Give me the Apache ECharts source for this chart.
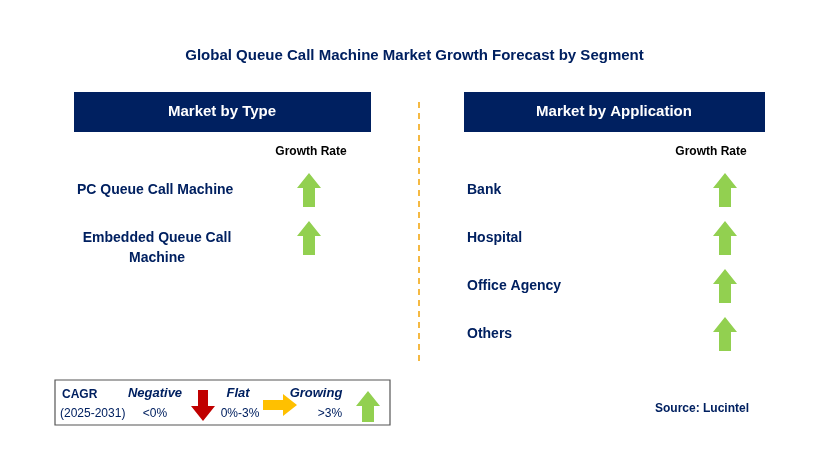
<!DOCTYPE html><html><head><meta charset="utf-8"><script src="https://cdn.jsdelivr.net/npm/echarts@6/dist/echarts.min.js"></script>
<style>html,body{margin:0;padding:0;background:#fff}#c{width:829px;height:453px}</style></head><body><div id="c"></div><script>
const title = 'Global Queue Call Machine Market Growth Forecast by Segment';
const typeCategories = ['PC Queue Call Machine', 'Embedded Queue Call\nMachine'];
const typeGrowth = ['up', 'up'];
const appCategories = ['Bank', 'Hospital', 'Office Agency', 'Others'];
const appGrowth = ['up', 'up', 'up', 'up'];
const source = 'Source: Lucintel';
const NAVY = '#002060', GREEN = '#92d050';
function upArrow(cx, top, color, h) {
  h = h || 34; const hw = 12, sw = 6, hh = 15;
  return {type:'polygon', shape:{points:[[cx,top],[cx+hw,top+hh],[cx+sw,top+hh],[cx+sw,top+h],[cx-sw,top+h],[cx-sw,top+hh],[cx-hw,top+hh]]}, style:{fill:color}};
}
const g = [];
g.push({type:'text', left:'center', top:48, style:{text:title, font:'bold 15px Arial', fill:NAVY}});
g.push({type:'rect', shape:{x:74,y:92,width:297,height:40}, style:{fill:NAVY}});
g.push({type:'text', x:222, y:112, style:{text:'Market by Type', font:'bold 15px Arial', fill:'#fff', align:'center', verticalAlign:'middle'}});
g.push({type:'rect', shape:{x:464,y:92,width:301,height:40}, style:{fill:NAVY}});
g.push({type:'text', x:614, y:112, style:{text:'Market by Application', font:'bold 15px Arial', fill:'#fff', align:'center', verticalAlign:'middle'}});
g.push({type:'line', shape:{x1:419,y1:102,x2:419,y2:366}, style:{stroke:'#f5b942', lineWidth:2, lineDash:[6,5]}});
g.push({type:'text', x:311, y:152, style:{text:'Growth Rate', font:'bold 12px Arial', fill:'#000', align:'center', verticalAlign:'middle'}});
g.push({type:'text', x:711, y:152, style:{text:'Growth Rate', font:'bold 12px Arial', fill:'#000', align:'center', verticalAlign:'middle'}});
typeCategories.forEach((c,i)=>{
  const y = 190 + i*48;
  g.push({type:'text', x:i===1?157:77, y: i===1?248:y, style:{text:c, font:'bold 14px Arial', fill:NAVY, align:i===1?'center':'left', verticalAlign:'middle', lineHeight:20}});
  if (typeGrowth[i]==='up') g.push(upArrow(309, y-17, GREEN));
});
appCategories.forEach((c,i)=>{
  const y = 190 + i*48;
  g.push({type:'text', x:467, y:y, style:{text:c, font:'bold 14px Arial', fill:NAVY, verticalAlign:'middle'}});
  if (appGrowth[i]==='up') g.push(upArrow(725, y-17, GREEN));
});
// legend
g.push({type:'rect', shape:{x:55,y:380,width:335,height:45}, style:{fill:'#fff', stroke:'#555', lineWidth:1.2}});
g.push({type:'text', x:62, y:395, style:{text:'CAGR', font:'bold 12px Arial', fill:NAVY, verticalAlign:'middle'}});
g.push({type:'text', x:60, y:414, style:{text:'(2025-2031)', font:'12px Arial', fill:NAVY, verticalAlign:'middle'}});
g.push({type:'text', x:155, y:393, style:{text:'Negative', font:'italic bold 13px Arial', fill:NAVY, align:'center', verticalAlign:'middle'}});
g.push({type:'text', x:155, y:414, style:{text:'<0%', font:'12px Arial', fill:NAVY, align:'center', verticalAlign:'middle'}});
g.push({type:'polygon', shape:{points:[[198,390],[208,390],[208,406],[215,406],[203,421],[191,406],[198,406]]}, style:{fill:'#c00000'}});
g.push({type:'text', x:238, y:393, style:{text:'Flat', font:'italic bold 13px Arial', fill:NAVY, align:'center', verticalAlign:'middle'}});
g.push({type:'text', x:240, y:414, style:{text:'0%-3%', font:'12px Arial', fill:NAVY, align:'center', verticalAlign:'middle'}});
g.push({type:'polygon', shape:{points:[[263,400],[283,400],[283,394],[297,405],[283,416],[283,410],[263,410]]}, style:{fill:'#ffc000'}});
g.push({type:'text', x:316, y:393, style:{text:'Growing', font:'italic bold 13px Arial', fill:NAVY, align:'center', verticalAlign:'middle'}});
g.push({type:'text', x:330, y:414, style:{text:'>3%', font:'12px Arial', fill:NAVY, align:'center', verticalAlign:'middle'}});
g.push(upArrow(368, 391, GREEN, 31));
g.push({type:'text', x:749, y:409, style:{text:source, font:'bold 12px Arial', fill:NAVY, align:'right', verticalAlign:'middle'}});
const chart = echarts.init(document.getElementById('c'));
chart.setOption({animation:false, graphic:{elements:g}});
</script></body></html>
